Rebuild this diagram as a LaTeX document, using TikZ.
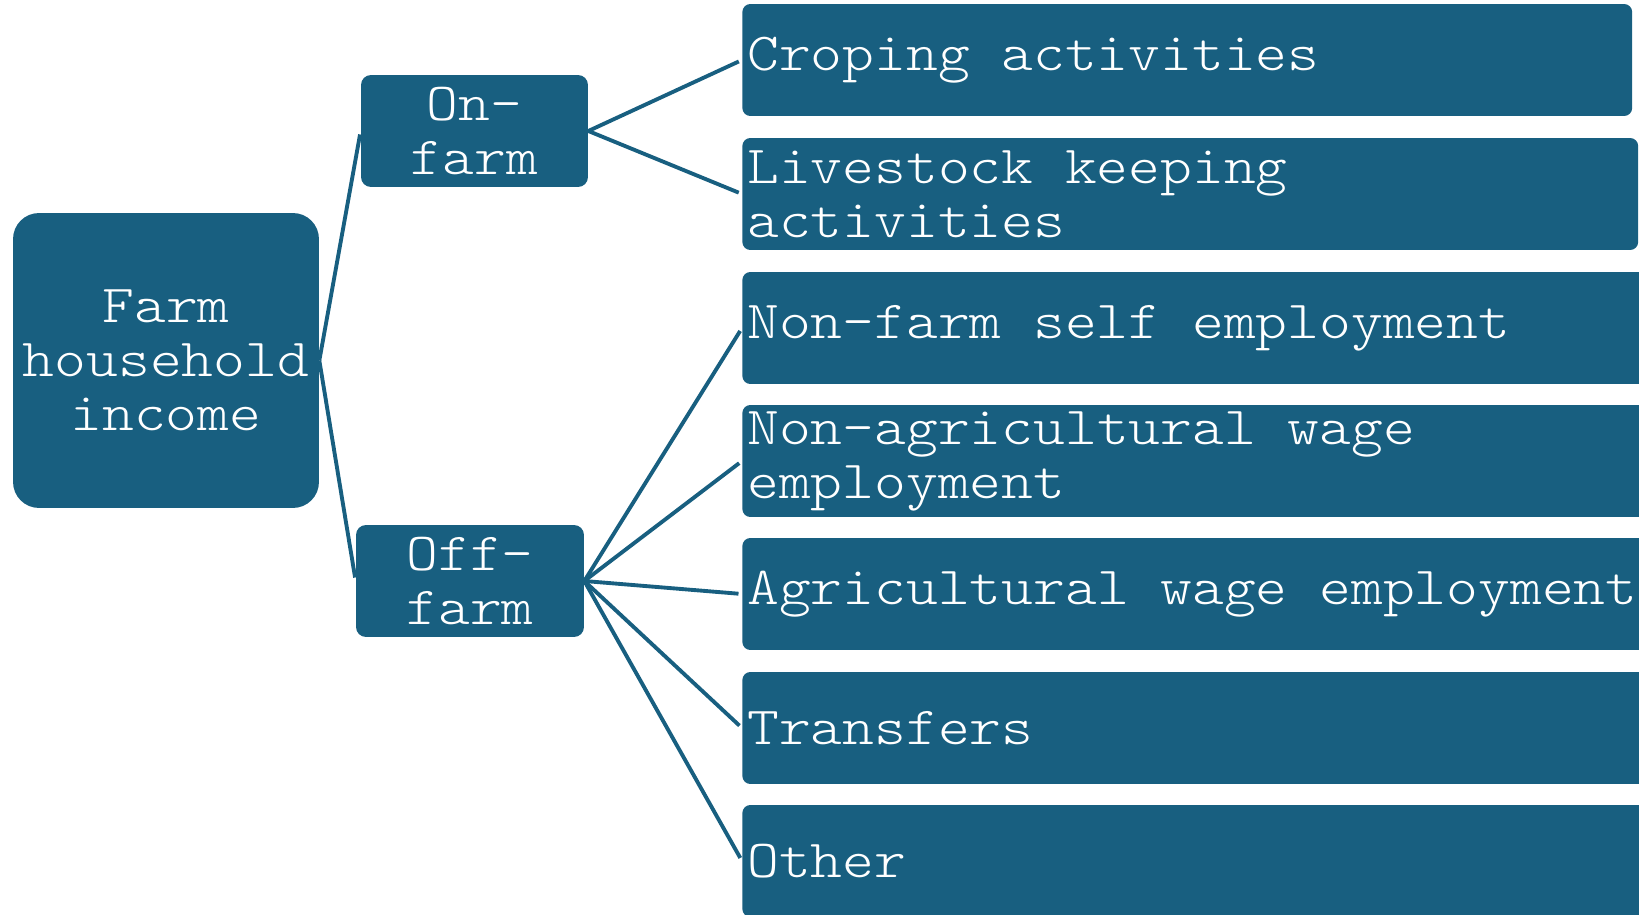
\documentclass[tikz,border=0pt]{standalone}
\usepackage{fontspec}
\newfontfamily\labelfont{lmmonolt10-regular.otf}[FakeStretch=1.13]
\definecolor{farmblue}{RGB}{24,95,128}
\begin{document}
\begin{tikzpicture}[x=0.02cm,y=-0.02cm,
  box/.style={fill=farmblue, text=white, rounded corners=0.2cm,
    font=\labelfont\fontsize{30.5}{30.7}\selectfont,
    % full-width spaces, as on a typewriter
    execute at begin node={\spaceskip=\fontcharwd\font`x\relax}},
  leaf/.style={box, anchor=west, align=left, inner xsep=0.1cm, inner ysep=0pt,
    text width=17.6cm, minimum height=2.24cm, rounded corners=0.16cm},
  link/.style={draw=farmblue, line width=2.2pt, shorten >=2pt}]
\clip (0,0) rectangle (1639,915);
\node[box, align=center, minimum width=6.12cm, minimum height=5.9cm, rounded corners=0.52cm] (income) at (166,360.5) {Farm\\household\\income};
\node[box, align=center, minimum width=4.54cm, minimum height=2.24cm] (on) at (474.5,131) {On-\\farm};
\node[box, align=center, minimum width=4.56cm, minimum height=2.24cm] (off) at (470,581) {Off-\\farm};
\node[leaf] (crop) at (742,60) {Croping activities};
\node[leaf, text width=17.72cm] (live) at (742,194) {Livestock keeping\\activities};
\node[leaf, text width=18cm] (self) at (742,328) {Non-farm self employment};
\node[leaf, text width=18cm] (nonag) at (742,461) {Non-agricultural wage\\employment};
\node[leaf, text width=18cm] (agwage) at (742,594) {Agricultural wage employment};
\node[leaf, text width=18cm] (trans) at (742,728) {Transfers};
\node[leaf, text width=18cm] (other) at (742,861) {Other};
\draw[link] (income.east) -- (on.west);
\draw[link] (income.east) -- (off.west);
\draw[link] (on.east) -- (crop.west);
\draw[link] (on.east) -- (live.west);
\foreach \n in {self,nonag,agwage,trans,other}
  \draw[link] (off.east) -- (\n.west);
\end{tikzpicture}
\end{document}
